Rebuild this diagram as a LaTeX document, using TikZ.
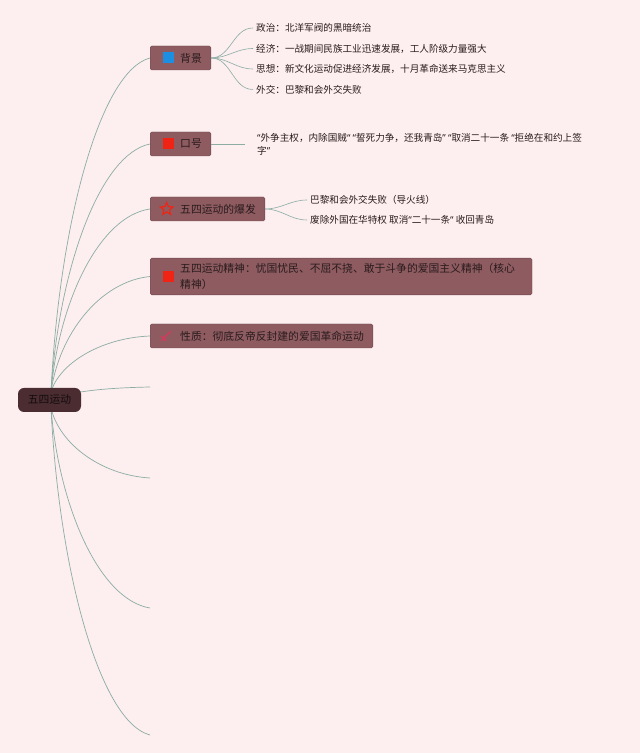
\documentclass[tikz,border=0pt]{standalone}
\usepackage{fontspec}
\setmainfont{Noto Sans CJK SC}
\newfontfamily\quotefont{Noto Sans}
\newcommand\qopen{{\quotefont “}}
\newcommand\qclose{{\quotefont ”}}
\usetikzlibrary{shapes.geometric, backgrounds}

\definecolor{paper}{HTML}{FDEEF0}
\definecolor{rootfill}{HTML}{4A2C31}
\definecolor{boxfill}{HTML}{8D5B60}
\definecolor{boxline}{HTML}{6E474B}
\definecolor{inktext}{HTML}{2A1B1D}
\definecolor{roottext}{HTML}{140C0E}
\definecolor{linkline}{HTML}{8CADA4}
\definecolor{iconblue}{HTML}{1C8FE3}
\definecolor{iconred}{HTML}{F02414}
\definecolor{iconpink}{HTML}{D8395A}

\begin{document}
\begin{tikzpicture}[
    x=1pt, y=1pt,
    root/.style = {
        rounded corners=6pt,
        fill=rootfill,
        text=roottext,
        font=\fontsize{10.8}{13}\selectfont,
        minimum width=63pt,
        minimum height=24pt,
        inner sep=0pt
    },
    topic/.style = {
        anchor=west,
        rounded corners=1.5pt,
        draw=boxline,
        fill=boxfill,
        text=inktext,
        align=left,
        font=\fontsize{10.8}{16.5}\selectfont,
        minimum height=24pt,
        inner xsep=9pt,
        inner ysep=5pt
    },
    leaf/.style = {
        anchor=west,
        text=inktext,
        align=left,
        font=\fontsize{9.6}{13}\selectfont,
        inner sep=3pt
    },
    flag/.style = {minimum size=11pt, inner sep=0pt},
    link/.style = {draw=linkline, line width=0.7pt},
    sublink/.style = {draw=linkline, line width=0.6pt}
]

\useasboundingbox (0,0) rectangle (640,753);

%% ── 中心主题 ────────────────────────────────────────────────────────────────

\node[root] (root) at (49.5,353) {五四运动};

\coordinate (hubup)   at ([shift={(1.5,8)}]root.center);
\coordinate (hubdown) at ([shift={(1.5,-8)}]root.center);

%% ── 分支 ────────────────────────────────────────────────────────────────────

\node[topic] (bg)     at (150,695)   {\hspace*{21pt}背景};
\node[topic] (slogan) at (150,609)   {\hspace*{21pt}口号};
\node[topic] (burst)  at (150,544)   {\hspace*{21pt}五四运动的爆发};
\node[topic] (spirit) at (150,476.5)
    {\hspace*{21pt}五四运动精神：忧国忧民、不屈不挠、敢于斗争的爱国主义精神（核心\hspace*{8pt}\\
     \hspace*{21pt}精神）};
\node[topic] (nature) at (150,417)   {\hspace*{21pt}性质：彻底反帝反封建的爱国革命运动};

% 空白分支的末端
\coordinate (blank1) at (150,366);
\coordinate (blank2) at (150,275);
\coordinate (blank3) at (150,145);
\coordinate (blank4) at (150,18);

%% ── 图标 ────────────────────────────────────────────────────────────────────

\node[flag, fill=iconblue] (bgicon)     at ([xshift=18.5pt]bg.west) {};
\node[flag, fill=iconred]  (sloganicon) at ([xshift=18pt]slogan.west) {};
\node[star, star points=5, star point ratio=2.2, draw=iconred, line width=1.2pt,
      minimum size=13pt, inner sep=0pt] (bursticon) at ([xshift=16.7pt]burst.west) {};
\node[flag, fill=iconred]  (spiriticon) at ([xshift=18pt]spirit.west) {};
\node[minimum size=9pt, inner sep=0pt] (natureicon) at ([xshift=16pt]nature.west) {};
\draw[iconpink, line width=1.4pt] (natureicon.north east) -- (natureicon.south west);
\draw[iconpink, line width=1.4pt] (natureicon.west) -- (natureicon.south);

%% ── 子主题 ──────────────────────────────────────────────────────────────────

\node[leaf] (bgpol) at (253,725)   {政治：北洋军阀的黑暗统治};
\node[leaf] (bgeco) at (253,704.5) {经济：一战期间民族工业迅速发展，工人阶级力量强大};
\node[leaf] (bgide) at (253,684)   {思想：新文化运动促进经济发展，十月革命送来马克思主义};
\node[leaf] (bgdip) at (253,663.5) {外交：巴黎和会外交失败};

\node[leaf, inner xsep=12pt] (slogantxt) at (245,609)
    {\qopen 外争主权，内除国贼\qopen{} \qopen 誓死力争，还我青岛\qclose{} \qopen 取消二十一条 \qopen 拒绝在和约上签\\字\qclose};

\node[leaf] (burstcause) at (307,553) {巴黎和会外交失败（导火线）};
\node[leaf] (burstgoal)  at (307,533) {废除外国在华特权 取消\qopen 二十一条\qopen{} 收回青岛};

%% ── 连线 ────────────────────────────────────────────────────────────────────

\begin{scope}[on background layer]
    \fill[paper] (0,0) rectangle (640,753);

    \draw[link] (hubup) .. controls +(8,167) and +(-50,-13) .. (bg.west);
    \draw[link] (hubup) .. controls +(8,124) and +(-50,-10) .. (slogan.west);
    \draw[link] (hubup) .. controls +(8,92)  and +(-50,-7)  .. (burst.west);
    \draw[link] (hubup) .. controls +(8,58)  and +(-50,-5)  .. (spirit.west);
    \draw[link] (hubup) .. controls +(8,28)  and +(-50,-2)  .. (nature.west);

    \draw[link] (root.center) .. controls +(20,8) and +(-50,-1) .. (blank1);
    \draw[link] (hubdown) .. controls +(8,-35)  and +(-50,3)  .. (blank2);
    \draw[link] (hubdown) .. controls +(8,-100) and +(-50,8)  .. (blank3);
    \draw[link] (hubdown) .. controls +(8,-163) and +(-50,13) .. (blank4);
\end{scope}

\draw[sublink] (bg.east) to[out=0,in=180] (bgpol.west);
\draw[sublink] (bg.east) to[out=0,in=180] (bgeco.west);
\draw[sublink] (bg.east) to[out=0,in=180] (bgide.west);
\draw[sublink] (bg.east) to[out=0,in=180] (bgdip.west);

\draw[sublink] (slogan.east) -- (slogantxt.west);

\draw[sublink] (burst.east) to[out=0,in=180] (burstcause.west);
\draw[sublink] (burst.east) to[out=0,in=180] (burstgoal.west);

\end{tikzpicture}
\end{document}
